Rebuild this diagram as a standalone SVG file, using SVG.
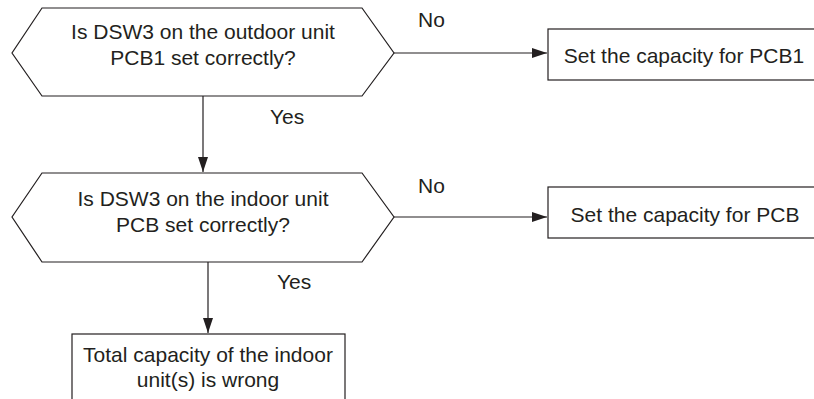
<svg xmlns="http://www.w3.org/2000/svg" width="814" height="399" viewBox="0 0 814 399">
  <style>
    .shape { fill: #ffffff; stroke: #231f20; stroke-width: 1.2; }
    .line { fill: none; stroke: #231f20; stroke-width: 1.2; }
    text { font-family: "Liberation Sans", Arial, sans-serif; font-size: 21px; fill: #231f20; }
    .c { text-anchor: middle; }
  </style>
  <defs>
    <marker id="arrow" markerUnits="userSpaceOnUse" markerWidth="16" markerHeight="12" refX="15" refY="5" orient="auto">
      <path d="M0,0 L15,5 L0,10 Z" fill="#231f20"/>
    </marker>
  </defs>

  <rect width="814" height="399" fill="#ffffff"/>

  <!-- connectors -->
  <g id="connectors">
    <line class="line" x1="394" y1="53" x2="547" y2="53" marker-end="url(#arrow)"/>
    <line class="line" x1="203" y1="96" x2="203" y2="172" marker-end="url(#arrow)"/>
    <line class="line" x1="394" y1="217" x2="547" y2="217" marker-end="url(#arrow)"/>
    <line class="line" x1="208" y1="262" x2="208" y2="333" marker-end="url(#arrow)"/>
    <text x="418" y="27">No</text>
    <text x="270" y="124">Yes</text>
    <text x="418" y="193">No</text>
    <text x="277" y="289">Yes</text>
  </g>

  <!-- decision: outdoor unit PCB1 -->
  <g id="decision-outdoor">
    <polygon class="shape" points="42,8 362,8 394,53 362,96 42,96 12,53"/>
    <text class="c" x="203" y="39">Is DSW3 on the outdoor unit</text>
    <text class="c" x="203" y="65">PCB1 set correctly?</text>
  </g>

  <!-- action: set capacity PCB1 -->
  <g id="set-pcb1">
    <rect class="shape" x="548" y="29" width="273" height="51"/>
    <text class="c" x="684" y="63">Set the capacity for PCB1</text>
  </g>

  <!-- decision: indoor unit PCB -->
  <g id="decision-indoor">
    <polygon class="shape" points="42,173 362,173 394,217 362,262 42,262 12,217"/>
    <text class="c" x="203" y="206">Is DSW3 on the indoor unit</text>
    <text class="c" x="203" y="232">PCB set correctly?</text>
  </g>

  <!-- action: set capacity PCB -->
  <g id="set-pcb">
    <rect class="shape" x="548" y="187" width="273" height="51"/>
    <text class="c" x="685" y="222">Set the capacity for PCB</text>
  </g>

  <!-- result: total capacity wrong -->
  <g id="capacity-wrong">
    <rect class="shape" x="72" y="334" width="273" height="80"/>
    <text class="c" x="208" y="362">Total capacity of the indoor</text>
    <text class="c" x="208" y="387">unit(s) is wrong</text>
  </g>
</svg>
